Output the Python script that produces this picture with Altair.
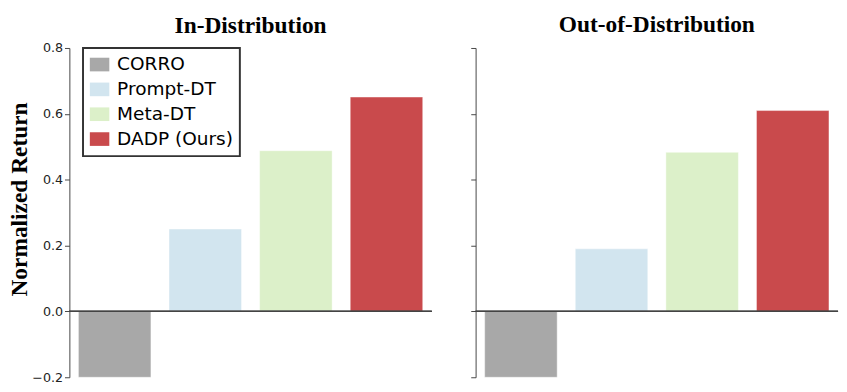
import altair as alt
import pandas as pd

methods = ["CORRO", "Prompt-DT", "Meta-DT", "DADP (Ours)"]
colors = ["#a8a8a8", "#d2e5ef", "#dcf0c9", "#c94a4c"]
in_dist = [-0.20, 0.25, 0.488, 0.651]
out_dist = [-0.20, 0.19, 0.483, 0.61]
y_ticks = [-0.2, 0.0, 0.2, 0.4, 0.6, 0.8]

df_in = pd.DataFrame({"method": methods, "value": in_dist})
df_out = pd.DataFrame({"method": methods, "value": out_dist})

W, H = 372, 338
label_font = "DejaVu Sans"
serif = "Liberation Serif"


def panel(df, title, first):
    y_axis = alt.Axis(
        values=y_ticks, format=".1f", grid=False,
        labels=first, labelFont=label_font, labelFontSize=13, labelColor="#222",
        labelPadding=2, tickSize=5, tickColor="#444", domainColor="#444",
        title="Normalized Return" if first else None,
        titleFont=serif, titleFontSize=24, titleFontWeight="bold", titleColor="black",
        titlePadding=0, titleY=155,
    )
    if first:
        legend = alt.Legend(
            title=None, orient="none", legendX=14, legendY=0,
            labelFont=label_font, labelFontSize=19, labelColor="black",
            symbolType="M-1,-0.7L1,-0.7L1,0.7L-1,0.7Z", symbolSize=400,
            symbolStrokeWidth=0, symbolOpacity=1, labelOffset=8,
            rowPadding=5.5, padding=7, strokeColor="#333", fillColor="white",
            cornerRadius=0,
        )
    else:
        legend = None
    bars = alt.Chart(df).mark_bar(stroke="white", strokeWidth=0.6, strokeOpacity=0.7).encode(
        x=alt.X("method:N", sort=methods, axis=None,
                scale=alt.Scale(paddingInner=0.2, paddingOuter=0.1)),
        y=alt.Y("value:Q", scale=alt.Scale(domain=[-0.2, 0.8], nice=False, zero=False),
                axis=y_axis),
        color=alt.Color("method:N", sort=methods,
                        scale=alt.Scale(domain=methods, range=colors), legend=legend),
    )
    zero = alt.Chart(df).mark_rule(color="#444", strokeWidth=1.3).encode(y=alt.datum(0))
    return alt.layer(bars, zero).properties(
        width=W, height=H,
        title=alt.TitleParams(title, font=serif, fontSize=24, fontWeight="bold",
                              color="black", anchor="middle",
                              offset=4 if first else 11),
    )


left = panel(df_in, "In-Distribution", True)
right = panel(df_out, "Out-of-Distribution", False)

chart = alt.hconcat(left, right, spacing=38).resolve_scale(color="independent").properties(
    padding={"left": 0, "top": 0, "right": 0, "bottom": 0}
).configure_view(stroke=None).configure_legend(strokeWidth=2)

chart.save("out.html", embed_options={"renderer": "svg", "actions": False})
